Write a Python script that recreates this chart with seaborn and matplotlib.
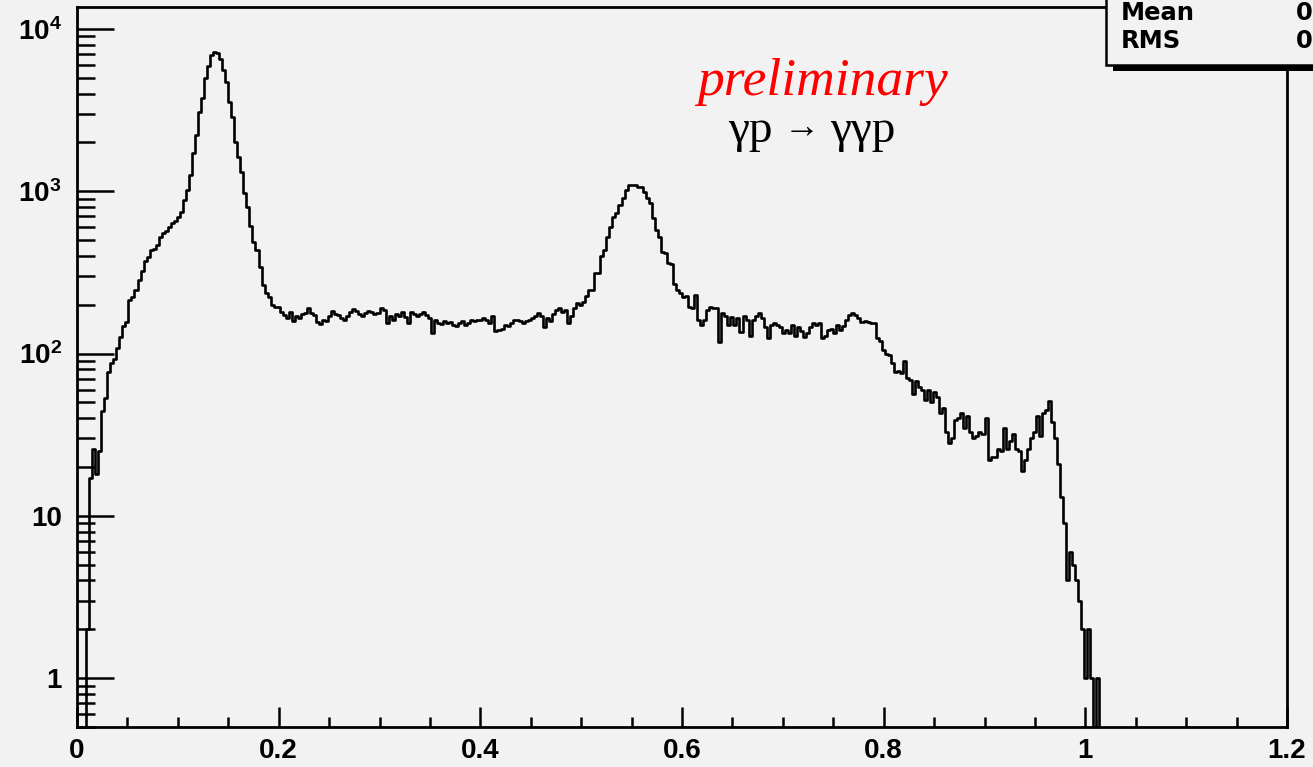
import numpy as np
import pandas as pd
import matplotlib
matplotlib.use("Agg")
import matplotlib.pyplot as plt
import seaborn as sns
from matplotlib.patches import Rectangle
from matplotlib.ticker import MultipleLocator, FixedLocator, FixedFormatter, LogLocator, NullFormatter

# ---------------- data (histogram, bin width 0.003 starting at 0) ----------------
bin_width = 0.003
counts_rise = [0, 0, 0, 2, 17, 26, 18, 25, 44, 53,
               77, 88, 92, 109, 126, 148, 157, 213, 222, 245,
               283, 322, 372, 393, 434, 440, 465, 525, 550, 570,
               600, 640, 660, 695, 745, 880]
counts_pi0 = [1016, 1260, 1730, 2220, 3060, 3740, 4960, 5940, 6890, 7200,
              7150, 6540, 5570, 4700, 3540, 2860, 2010, 1620, 1320, 975,
              800, 615, 490, 434, 342, 265, 237, 223, 198, 194,
              194, 180]
counts_flat = [172, 165, 180, 158, 170, 165, 175, 178, 190, 178,
               172, 156, 152, 162, 158, 170, 182, 175, 172, 165,
               160, 170, 180, 188, 182, 175, 170, 178, 182, 180,
               176, 178, 192, 185, 155, 170, 160, 175, 170, 180,
               168, 155, 180, 175, 170, 176, 180, 172, 165, 134,
               160, 155, 152, 158, 154, 156, 150, 148, 155, 158,
               150, 155, 160, 158, 162, 160, 165, 160, 155, 170,
               138, 140, 142, 150, 148, 155, 160, 162, 158, 155,
               158, 162, 165, 170, 178, 170, 145, 165, 158, 175,
               185, 190, 180, 186, 155, 170, 190, 205]
counts_eta = [200, 208, 228, 246, 246, 313, 313, 397, 434, 525,
              600, 695, 735, 820, 905, 1016, 1090, 1090, 1090, 1060,
              1060, 990, 905, 845, 680, 576, 525, 420, 415, 360,
              355, 270, 246, 235, 223]
counts_omega = [228, 194, 192, 230, 161, 150, 160, 185, 194, 190,
                192, 118, 178, 170, 150, 168, 150, 165, 135, 170,
                160, 128, 160, 170, 178, 165, 146, 125, 150, 154,
                150, 145, 134, 140, 134, 150, 128, 145, 138, 126,
                134, 145, 154, 150, 154, 125, 128, 139, 142, 134,
                150, 140, 148, 160, 172, 178, 172, 165, 157, 158,
                157, 154, 154, 124, 120, 105, 100, 98, 87, 77,
                78, 76, 90, 71, 69]
counts_tail = [56, 68, 62, 60, 52, 60, 50, 58, 54, 43,
               46, 33, 28, 30, 39, 40, 43, 35, 41, 33,
               30, 31, 33, 32, 40, 22, 23, 23, 26, 25,
               35, 26, 29, 32, 26, 25, 19, 22, 26, 30,
               33, 41, 31, 43, 45, 51, 38, 30, 21, 13,
               9, 4, 6, 5, 4, 3, 2, 1, 2, 1,
               0, 1, 0, 0]

x_tick_values = [0.0, 0.2, 0.4, 0.6, 0.8, 1.0, 1.2]
x_tick_labels = ["0", "0.2", "0.4", "0.6", "0.8", "1", "1.2"]
y_tick_values = [1, 10, 100, 1000, 10000]
y_tick_labels = ["1", "10", r"$10^{2}$", r"$10^{3}$", r"$10^{4}$"]
stats_names = ["Mean", "RMS"]
stats_values = ["0", "0"]

# ---------------- figure ----------------
W, H = 1313, 767
BG = "#f2f2f2"
sns.set_style("ticks")
plt.rcParams["font.family"] = ["Liberation Sans", "DejaVu Sans"]
plt.rcParams["text.color"] = "black"
plt.rcParams["xtick.color"] = "black"
plt.rcParams["ytick.color"] = "black"
plt.rcParams["mathtext.fontset"] = "custom"
plt.rcParams["mathtext.rm"] = "Liberation Sans:bold"
plt.rcParams["mathtext.it"] = "Liberation Sans:bold"
plt.rcParams["mathtext.bf"] = "Liberation Sans:bold"

fig = plt.figure(figsize=(W / 100, H / 100), dpi=100, facecolor=BG)
ax = fig.add_axes([77 / W, 1 - 727 / H, (1287 - 77) / W, (727 - 7) / H])
ax.set_facecolor(BG)

counts = np.array(counts_rise + counts_pi0 + counts_flat + counts_eta + counts_omega + counts_tail, dtype=float)
edges = np.arange(len(counts) + 1) * bin_width
df = pd.DataFrame({"x": edges, "y": np.append(counts, counts[-1])})

sns.lineplot(data=df, x="x", y="y", drawstyle="steps-post", color="black",
             linewidth=1.9, estimator=None, sort=False, ax=ax)
ax.set_yscale("log", nonpositive="clip")
ax.set_xlim(0, 1.2)
ax.set_ylim(0.5, 1.367e4)
ax.set_xlabel("")
ax.set_ylabel("")

for s in ax.spines.values():
    s.set_visible(True)
    s.set_linewidth(2.0)
    s.set_color("black")

ax.xaxis.set_major_locator(FixedLocator(x_tick_values))
ax.xaxis.set_major_formatter(FixedFormatter(x_tick_labels))
ax.xaxis.set_minor_locator(MultipleLocator(0.05))
ax.yaxis.set_major_locator(FixedLocator(y_tick_values))
ax.yaxis.set_major_formatter(FixedFormatter(y_tick_labels))
ax.yaxis.set_minor_locator(LogLocator(base=10, subs=np.arange(2, 10), numticks=20))
ax.yaxis.set_minor_formatter(NullFormatter())

ax.tick_params(axis="x", which="major", direction="in", length=14.5, width=1.8, pad=8,
               labelsize=20, top=False, bottom=True, colors="black")
ax.tick_params(axis="x", which="minor", direction="in", length=7.5, width=1.8, top=False, colors="black")
ax.tick_params(axis="y", which="major", direction="in", length=26.5, width=1.8, pad=11,
               labelsize=20, right=False, left=True, colors="black")
ax.tick_params(axis="y", which="minor", direction="in", length=13, width=1.8, right=False, colors="black")
for lab in ax.get_xticklabels() + ax.get_yticklabels():
    lab.set_fontweight("bold")
    lab.set_color("black")


def fx(px):
    return px / W


def fy(py):
    return 1 - py / H


# annotation texts
fig.text(fx(697), fy(95), "preliminary", color="red", fontsize=38.5, style="italic",
         family=["Liberation Serif", "DejaVu Serif"], va="baseline", ha="left")
fig.text(fx(728), fy(142), "\u03b3p", color="black", fontsize=34,
         family=["Liberation Serif", "DejaVu Serif"], va="baseline", ha="left")
fig.text(fx(802), fy(129), "\u2192", color="black", fontsize=26,
         family=["Liberation Serif", "DejaVu Sans"], va="center", ha="center")
fig.text(fx(830), fy(142), "\u03b3\u03b3p", color="black", fontsize=34,
         family=["Liberation Serif", "DejaVu Serif"], va="baseline", ha="left")

# stats box (ROOT style with shadow)
fig.add_artist(Rectangle((fx(1113), fy(71)), (1330 - 1113) / W, (71 - 5) / H,
                         transform=fig.transFigure, facecolor="black", edgecolor="none", zorder=10))
fig.add_artist(Rectangle((fx(1106), fy(65)), (1330 - 1106) / W, (65 + 5) / H,
                         transform=fig.transFigure, facecolor=BG, edgecolor="black",
                         linewidth=1.8, zorder=11))
for i, (nm, val) in enumerate(zip(stats_names, stats_values)):
    yb = 20 + 28 * i
    fig.text(fx(1121), fy(yb), nm, fontsize=17.5, fontweight="bold", family="DejaVu Sans",
             color="black", va="baseline", ha="left", zorder=12)
    fig.text(fx(1296), fy(yb), val, fontsize=17.5, fontweight="bold", family="DejaVu Sans",
             color="black", va="baseline", ha="left", zorder=12)

fig.savefig("out.png", dpi=100, facecolor=BG)
